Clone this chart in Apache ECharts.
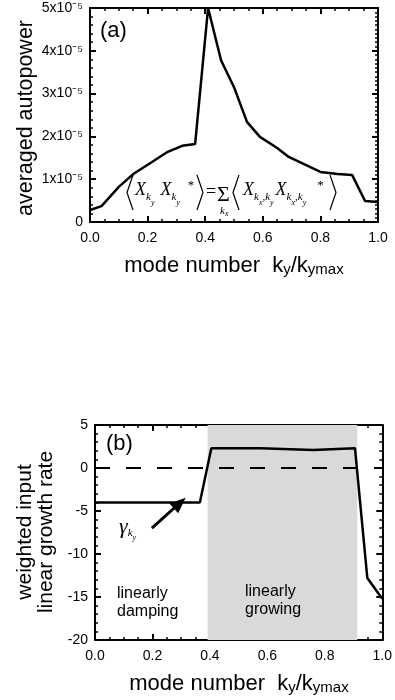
<!DOCTYPE html>
<html><head><meta charset="utf-8">
<script src="https://cdn.jsdelivr.net/npm/echarts@6/dist/echarts.min.js"></script>
<style>
html,body{margin:0;padding:0;background:#fff}
#wrap{position:relative;width:395px;height:700px}
#ca{position:absolute;left:0;top:0;width:395px;height:350px}
#cb{position:absolute;left:0;top:350px;width:395px;height:350px}
#cc{position:absolute;left:0;top:0;width:395px;height:700px;pointer-events:none;z-index:2}
</style>
</head><body><div id="wrap"><div id="ca"></div><div id="cb"></div><div id="cc"></div></div>
<script>
// ---------- data ----------
const modeNumberA = [0.0, 0.04, 0.10, 0.15, 0.21, 0.27, 0.32, 0.365, 0.41, 0.455, 0.50, 0.545, 0.59, 0.65, 0.69, 0.80, 0.86, 0.91, 0.955, 1.0];
const autopowerA  = [0.28, 0.37, 0.82, 1.12, 1.38, 1.64, 1.78, 1.82, 5.0, 3.78, 3.15, 2.34, 1.99, 1.73, 1.52, 1.17, 1.12, 1.10, 0.49, 0.47]; // in units of 1e-5
const modeNumberB = [0.0, 0.365, 0.405, 0.575, 0.76, 0.905, 0.948, 1.0];
const growthRateB = [-4.0, -4.0, 2.3, 2.3, 2.1, 2.3, -12.8, -15.2];
const growingBand = [0.392, 0.913];
const xTicks  = [0.0, 0.2, 0.4, 0.6, 0.8, 1.0];
const yTicksA = [0, 1, 2, 3, 4, 5];          // x10^-5
const yTicksB = [-20, -15, -10, -5, 0, 5];
const arrowTail = [0.198, -7.0];
const arrowTip  = [0.295, -4.07];

const SANS = 'Liberation Sans';
const SERIF = 'Liberation Serif';

function xAx(pos, showLabel) {
  return {
    type: 'value', position: pos,
    min: xTicks[0], max: xTicks[xTicks.length - 1], interval: xTicks[1] - xTicks[0],
    axisLine: {show: true, onZero: false, lineStyle: {color: '#000', width: 2}},
    axisTick: {show: true, inside: true, length: 6, lineStyle: {color: '#000', width: 2}},
    minorTick: {show: true, splitNumber: 4, length: 3, lineStyle: {color: '#000', width: 1.5}},
    splitLine: {show: false}, minorSplitLine: {show: false},
    axisLabel: {show: showLabel, margin: 9, color: '#000', fontSize: 14, fontFamily: SANS,
      formatter: v => v.toFixed(1)}
  };
}
function yAx(pos, ticks, showLabel, minorSplit, fmt) {
  return {
    type: 'value', position: pos,
    min: ticks[0], max: ticks[ticks.length - 1], interval: ticks[1] - ticks[0],
    axisLine: {show: true, onZero: false, lineStyle: {color: '#000', width: 2}},
    axisTick: {show: true, inside: true, length: 6, lineStyle: {color: '#000', width: 2}},
    minorTick: {show: true, splitNumber: minorSplit, length: 3, lineStyle: {color: '#000', width: 1.5}},
    splitLine: {show: false}, minorSplitLine: {show: false},
    axisLabel: {show: showLabel, margin: 7, color: '#000', fontSize: 14, fontFamily: SANS,
      formatter: fmt || (v => String(v))}
  };
}

// ---------- panel (a) ----------
const chartA = echarts.init(document.getElementById('ca'));
chartA.setOption({
  animation: false,
  backgroundColor: 'transparent',
  grid: [{left: 90, top: 8, width: 288, height: 214}],
  xAxis: [xAx('bottom', true), xAx('top', false)],
  yAxis: [
    yAx('left', yTicksA, true, 5, v => v === 0 ? '0' : v + 'x10\u207B\u2075'),
    yAx('right', yTicksA, false, 10)
  ],
  series: [{
    type: 'line', z: 3,
    data: modeNumberA.map((m, i) => [m, autopowerA[i]]),
    symbol: 'none', lineStyle: {color: '#000', width: 2.5}
  }]
});

// ---------- panel (b) ----------
const chartB = echarts.init(document.getElementById('cb'));
chartB.setOption({
  animation: false,
  backgroundColor: 'transparent',
  grid: [{left: 95, top: 75, width: 288, height: 215}],
  xAxis: [xAx('bottom', true), xAx('top', false)],
  yAxis: [yAx('left', yTicksB, true, 5), yAx('right', yTicksB, false, 5)],
  series: [
    {
      type: 'line', z: 1, data: [],
      markArea: {silent: true, itemStyle: {color: '#d9d9d9'},
        data: [[{xAxis: growingBand[0]}, {xAxis: growingBand[1]}]]}
    },
    {
      type: 'line', z: 3,
      data: modeNumberB.map((m, i) => [m, growthRateB[i]]),
      symbol: 'none', lineStyle: {color: '#000', width: 2.5},
      markLine: {
        silent: true, symbol: 'none', label: {show: false},
        data: [
          {yAxis: 0, lineStyle: {color: '#000', width: 2, type: [15, 16]}},
          [
            {coord: arrowTail, symbol: 'none', lineStyle: {color: '#000', width: 3, type: 'solid'}},
            {coord: arrowTip, symbol: 'triangle', symbolSize: [13, 16]}
          ]
        ]
      }
    }
  ]
});

// ---------- overlay: titles and annotations ----------
const it = {fontFamily: SERIF, fontStyle: 'italic', color: '#000'};
const formulaRich = {
  X: Object.assign({fontSize: 18, lineHeight: 40}, it),
  k: Object.assign({fontSize: 11, padding: [15, 0, 0, 0]}, it),
  y: Object.assign({fontSize: 8, padding: [26, 0, 0, 0]}, it),
  st: {fontSize: 13, fontFamily: SERIF, color: '#000', padding: [0, 0, 9, 0]},
  w6: {width: 6, lineHeight: 40},
  w8: {width: 8, lineHeight: 40},
  w10: {width: 11, lineHeight: 40},
  w2: {width: 2, lineHeight: 40},
  g: Object.assign({fontSize: 22, lineHeight: 40}, it),
  gk: Object.assign({fontSize: 11, padding: [12, 0, 0, 0]}, it),
  gy: Object.assign({fontSize: 8, padding: [22, 0, 0, 0]}, it)
};
const titleRich = {
  n: {fontSize: 22, fontFamily: SANS, color: '#000', lineHeight: 30},
  s: {fontSize: 15, fontFamily: SANS, color: '#000', padding: [8, 0, 0, 0]}
};
const xTitle = '{n|mode number  k}{s|y}{n|/k}{s|ymax}';
function bracket(x, dir) {
  return {type: 'polyline', z: 100, shape: {points: [[x + 6 * dir, 175], [x, 192.5], [x + 6 * dir, 210]]},
    style: {stroke: '#000', lineWidth: 1.2, fill: null}};
}
const chartC = echarts.init(document.getElementById('cc'));
chartC.setOption({
  animation: false,
  backgroundColor: 'transparent',
  graphic: [
    {type: 'text', z: 100, style: {x: 234, y: 266, align: 'center', verticalAlign: 'middle', text: xTitle, rich: titleRich}},
    {type: 'text', z: 100, style: {x: 239, y: 684, align: 'center', verticalAlign: 'middle', text: xTitle, rich: titleRich}},
    {type: 'text', z: 100, x: 26, y: 118, rotation: Math.PI / 2,
      style: {x: 0, y: 0, align: 'center', verticalAlign: 'middle', text: 'averaged autopower', fontSize: 21.5, fontFamily: SANS, fill: '#000'}},
    {type: 'text', z: 100, x: 36, y: 532, rotation: Math.PI / 2,
      style: {x: 0, y: 0, align: 'center', verticalAlign: 'middle', text: 'weighted input\nlinear growth rate', fontSize: 21, lineHeight: 21, fontFamily: SANS, fill: '#000'}},
    {type: 'text', z: 100, left: 100, top: 20, style: {text: '(a)', fontSize: 22, fontFamily: SANS, fill: '#000'}},
    {type: 'text', z: 100, left: 106, top: 433, style: {text: '(b)', fontSize: 22, fontFamily: SANS, fill: '#000'}},
    bracket(127, 1), bracket(203, -1), bracket(233, 1), bracket(336, -1),
    {type: 'text', z: 100, style: {x: 135, y: 190, verticalAlign: 'middle', align: 'left',
      text: '{X|X}{k|k}{y|y}{w6| }{X|X}{k|k}{y|y}{w8| }{st|*}', rich: formulaRich}},
    {type: 'text', z: 100, style: {x: 206, y: 192, verticalAlign: 'middle', align: 'left',
      text: '=', fontSize: 18, fontFamily: SERIF, fill: '#000'}},
    {type: 'text', z: 100, style: {x: 217, y: 195, verticalAlign: 'middle', align: 'left',
      text: 'Σ', fontSize: 22, fontFamily: SERIF, fill: '#000'}},
    {type: 'text', z: 100, style: {x: 220, y: 211, verticalAlign: 'middle', align: 'left',
      text: '{k|k}{y|x}', rich: {
        k: Object.assign({fontSize: 11, lineHeight: 16}, it),
        y: Object.assign({fontSize: 8, padding: [5, 0, 0, 0]}, it)}}},
    {type: 'text', z: 100, style: {x: 243, y: 190, verticalAlign: 'middle', align: 'left',
      text: '{X|X}{k|k}{y|x}{k|,k}{y|y}{w2| }{X|X}{k|k}{y|x}{k|,k}{y|y}{w10| }{st|*}', rich: formulaRich}},
    {type: 'text', z: 100, style: {x: 119, y: 527, verticalAlign: 'middle', align: 'left',
      text: '{g|γ}{gk|k}{gy|y}', rich: formulaRich}},
    {type: 'text', z: 100, left: 117, top: 585, style: {text: 'linearly\ndamping', fontSize: 16, lineHeight: 18, fontFamily: SANS, fill: '#000'}},
    {type: 'text', z: 100, left: 245, top: 583, style: {text: 'linearly\ngrowing', fontSize: 16, lineHeight: 18, fontFamily: SANS, fill: '#000'}}
  ]
});
</script>
</body></html>
